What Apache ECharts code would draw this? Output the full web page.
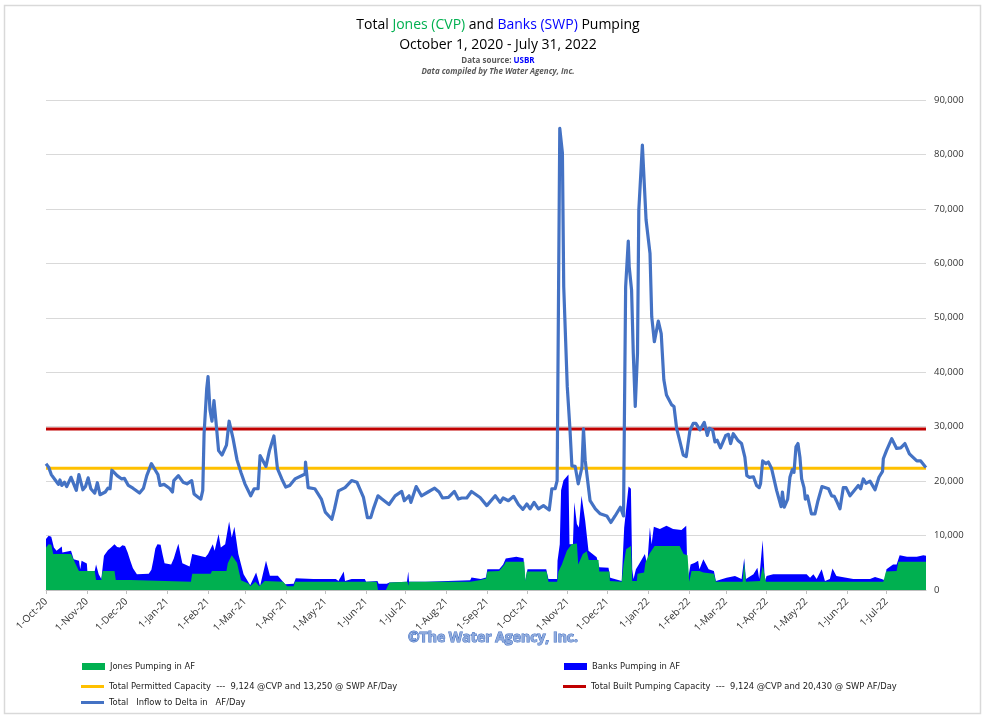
<!DOCTYPE html>
<html>
<head>
<meta charset="utf-8">
<script src="https://cdn.jsdelivr.net/npm/echarts@6/dist/echarts.min.js"></script>
<style>html,body{margin:0;padding:0;background:#fff}#main{width:988px;height:721px}</style>
</head>
<body>
<div id="main"></div>
<script>
// x values are days since 1-Oct-20
var tickDays = [0,31,61,92,123,151,182,212,243,273,304,335,365,396,426,457,488,516,547,577,608,638];
var tickLabels = ['1-Oct-20','1-Nov-20','1-Dec-20','1-Jan-21','1-Feb-21','1-Mar-21','1-Apr-21','1-May-21','1-Jun-21','1-Jul-21','1-Aug-21','1-Sep-21','1-Oct-21','1-Nov-21','1-Dec-21','1-Jan-22','1-Feb-22','1-Mar-22','1-Apr-22','1-May-22','1-Jun-22','1-Jul-22'];
var lastDay = 668;

var permittedCapacity = 22374;
var builtCapacity = 29554;

// Jones pumping, top of the green area
var jones = [[0,7800],[2,8400],[4,8300],[5.5,6600],[19,6600],[22,5000],[25,3500],[37,3500],[38,1850],[42,1850],[43,3500],[52,3500],[53,1850],[64,1850],[65,1500],[110,1500],[111,3000],[125,3000],[126,3500],[137,3500],[138,4900],[141,6400],[145,5000],[148,1800],[154,1150],[155,700],[159,1500],[162,700],[166,1650],[180,1500],[183,700],[188,700],[189,1500],
[251,1500],[252,0],[258,0],[260.7,1400],[262,1500],[274.5,1500],[275,800],[275.6,1500],[322,1500],[323,1850],[330,1850],[331,2100],[334,2100],[335,3400],[344,3500],[345,3800],[348,4700],[349,5170],[363,5170],[364,1660],[365,3400],[380,3400],[381.4,1500],[388,1500],[389,3400],[391.6,4700],[395.4,7200],[399,8400],[403,8550],[404,4700],[407.5,6600],[410.5,7100],[412,5500],[419.4,5500],[420,3400],[427.8,3400],[428,1660],[437,1500],[438.4,4700],[440.4,7500],[444,8100],[444.7,4100],[445,1660],[448.5,1660],[449,3000],[454,3200],[455,5000],[456.4,5000],[458,6600],[462,8100],[476,8100],[481,8100],[484,6600],[487,6400],[488.3,1500],[490,3500],[496,3500],[499,3200],[507,3000],[508.5,1500],[528.8,1500],[530,5170],[531.3,1500],[542,1660],[544,4400],[546.5,1500],[635.6,1500],[637.6,3400],[645.7,3500],[647,5170],[668,5170]];

// Banks pumping, read as the top of the blue area stacked over Jones
var banksTop = [[0,9350],[2,9960],[4,9780],[6,7800],[8,7200],[12,8000],[12.4,6900],[19,7200],[21,5650],[25,5350],[26,3800],[27,5350],[31,4860],[31.4,3500],[37,3500],[38,4700],[40,2900],[42,2000],[43,4200],[44,6300],[47,7300],[49,7700],[52,8400],[54,7900],[56,7800],[58,8200],[60,8100],[62,6900],[64,5350],[66,4000],[69,2900],[78,3000],[80,3700],[81.5,5500],[83,7600],[84.6,8400],[87,8300],[88.5,6500],[90,4900],[95,4700],[97,5800],[99,7400],[100.5,8500],[102,6600],[103.5,4900],[109,4300],[111,6600],[121,6000],[123,6600],[126.6,8400],[128,7200],[131,10300],[132.7,7800],[136,8400],[139,12600],[141,9650],[143,11600],[146,6600],[150,2900],[155,860],[159.5,3200],[162.5,740],[167,5350],[170,2600],[176,2600],[181.5,1050],[188,1170],[189.6,2150],[203,2000],[220,2000],[222,1660],[226,3400],[227,1660],
[232,2000],[236,2000],[242,2000],[243,1500],[251.6,1660],[252.5,1170],[258.7,1170],[260.7,1400],[274,1500],[275,3400],[275.6,1500],[288,1500],[289.5,1780],[322,1780],[323,2280],[330,2000],[334,2280],[335,3800],[344,3800],[347,4700],[349,5780],[357,6100],[362.5,5840],[363.7,1660],[365.5,3800],[379.7,3800],[381.4,2000],[388,2000],[388.3,5350],[390,8400],[391,18300],[392.8,20100],[396.6,21200],[397.4,8400],[400,8400],[401,16100],[403,12100],[404.5,11500],[406.5,17300],[409.3,12700],[411.8,7200],[418,6000],[420,4200],[427,4100],[428.3,2270],[437,1660],[438.9,11500],[442.2,19000],[444,18600],[445,3800],[446,2000],[447.8,3800],[450,4700],[454.6,6600],[456.4,4700],[458.4,11500],[459.7,8400],[461.4,11600],[466,11200],[471,11800],[476,11200],[482.4,11000],[486,11800],[487,1660],[488.3,1660],[489.3,4700],[492.6,5000],[495,5350],[496,3800],[499,5650],[503,3800],[507,3500],[508.5,1660],[516.6,2270],[523,2580],[528,2000],[530,5840],[531.3,2000],[537,2900],[540,4100],[541.4,2000],[544,9160],[545.7,1660],[547,2580],[552,2900],[577.4,2900],[580,2270],[582.5,2900],[585,2000],[588.8,3800],[591.3,1660],[595,2000],[597,3940],[600,2580],[612.8,2000],[625.5,2000],[629.3,2400],[634.3,2000],[636.8,1800],[638,3800],[643,4700],[645.7,4700],[648,6400],[653.6,6100],[661,6100],[666,6400],[668,6300]];

// Total inflow to the Delta
var inflow = [[0,23200],[2,22570],[4,21200],[7,20200],[9.4,19400],[10.6,20200],[12,19200],[14,19800],[15.7,19000],[19,20700],[20,20800],[23,18300],[25,21200],[26,21200],[28,18400],[30,19000],[32,20600],[34,18600],[37,17800],[39,19700],[41,17500],[45,18000],[47,18700],[48.6,18600],[50,22000],[51,22100],[54,21000],[57.5,20400],[59.5,20500],[62.5,19200],[66,18700],[71,17800],[74,18700],[76.5,21000],[80,23200],[83,22000],[85,21200],[86.6,19200],[89.6,19400],[93.7,18700],[96,18000],[97,20100],[100.5,21000],[104,19800],[107,19500],[110.6,20100],[112.4,17650],[115.7,17000],[117.5,16700],[119,18300],[120,28700],[122,37000],[123,39200],[124.5,33000],[126,31000],[127.5,34800],[129,31000],[131,25600],[133.6,24800],[137,26600],[139,31000],[142,27800],[145,23900],[148,21600],[151,19500],[155.4,17300],[158,18600],[161,18600],[162.5,24700],[164,24900],[167,22700],[169.6,25600],[173,28300],[175.7,22300],[179,20400],[182,18900],[185,19200],[189,20400],[196.7,21300],[197,23500],[199,18800],[204,18600],[209,16700],[212,14300],[217,13000],[219,14900],[222,18200],
[227,18800],[232,20100],[236,19800],[241,17000],[244,13300],[246.5,13300],[248.5,14900],[252,17300],[255,16700],[260.4,15700],[265,17300],[270,18100],[272,16400],[275.6,17300],[277,16100],[281,19000],[285,17300],[290,18000],[295,18700],[298.4,18000],[301,16900],[305.5,17000],[310,18100],[313,16700],[315.6,16900],[319.4,16900],[323,18100],[329.5,17000],[334.6,15500],[341,17300],[344.7,16100],[347,16900],[351,16400],[355,17200],[358.6,15700],[362,14800],[365,15800],[367.5,14900],[370.5,16100],[373.8,14900],[377.6,15500],[382,14700],[384,18600],[386.5,18600],[388,20100],[390,84800],[392,80300],[393,55700],[395.7,37300],[397.7,29700],[399.2,22800],[401.7,22700],[404,19500],[406.8,22500],[408,29600],[409.3,23800],[413,16400],[417,14900],[420.7,14000],[425.7,13600],[428.8,12400],[432,13600],[436,15200],[438.4,13600],[439,29700],[440,55700],[442,64100],[442.7,59400],[444.5,55100],[445.8,43500],[447.3,33700],[449,43500],[450,69800],[452.7,81700],[455.5,68000],[456.5,68000],[458.5,61800],[459.8,50200],[461.8,45600],[463,45900],[464.8,49400],[467,47100],[469,38600],[471,35800],[473,34900],[475,34000],[476.7,33700],[478.7,29700],[481,27500],[483.7,24800],[486,24500],[488.8,29300],[491.3,30600],[493.3,30600],[496.4,29400],[499.7,30800],[502,28400],[503.5,29700],[506,29400],[507.8,27200],[509.5,27500],[512,26100],[516,28400],[518,28600],[519.7,26900],[521.7,28700],[523,28500],[525.5,27400],[528,26900],[530.5,24400],[532,21000],[534,20700],[537,20800],[539.4,19200],[541.4,18800],[542.4,19500],[544,23700],[546.5,23200],[548.3,23500],[550.8,22300],[554.6,18300],[556,18100],[558,15300],[559,18000],[560.4,15200],[563,16700],[564.7,20700],[566.5,22100],[567.8,21600],[569.3,26300],[570.8,26900],[572.3,24400],[573.6,20400],[575.4,18800],[576.4,16700],[578,17300],[581,14000],[583.7,14000],[586,16400],[589,19000],[590.5,19000],[594,18600],[596.4,17300],[598.4,17200],[600,16400],[602.7,14900],[605.2,18800],[607.3,18800],[610.3,17300],[614,18400],[616.6,19200],[618.4,18600],[620.4,20400],[622.4,19600],[625.5,20000],[629.3,18400],[632.3,20700],[635,21800],[635.6,24100],[638,25600],[642,27800],[645.7,26000],[648.8,26100],[652,26900],[655.4,25000],[661,23700],[664,23700],[667.3,22700],[668,22500]];

var names = {
	jones: 'Jones Pumping in AF',
	banks: 'Banks Pumping in AF',
	permitted: 'Total Permitted Capacity  ---  9,124 @CVP and 13,250 @ SWP AF/Day',
	built: 'Total Built Pumping Capacity  ---  9,124 @CVP and 20,430 @ SWP AF/Day',
	inflow: 'Total   Inflow to Delta in   AF/Day'
};

var legendFont = {fontFamily: '"Liberation Sans Narrow", "DejaVu Sans Condensed", sans-serif', fontSize: 9.3, color: '#222'};

function oneLegend(name, x, y, h) {
	return {data: [name], left: x, top: y, icon: 'rect', itemWidth: 23, itemHeight: h, itemGap: 0,
		padding: 0, textStyle: legendFont, selectedMode: false};
}

var chart = echarts.init(document.getElementById('main'), null, {renderer: 'canvas'});
var titleFont = '"Open Sans", sans-serif';

var option = {
	animation: false,
	backgroundColor: '#fff',
	title: [
		{left: 493, top: 13, textAlign: 'center',
			text: 'Total {g|Jones (CVP)} and {b|Banks (SWP)} Pumping',
			textStyle: {fontFamily: titleFont, fontWeight: 'normal', fontSize: 14, color: '#000',
				rich: {g: {fontFamily: titleFont, fontSize: 14, color: '#00B050'}, b: {fontFamily: titleFont, fontSize: 14, color: '#0000FF'}}}},
		{left: 493, top: 33, textAlign: 'center', text: 'October 1, 2020 - July 31, 2022',
			textStyle: {fontFamily: titleFont, fontWeight: 'normal', fontSize: 14, color: '#000'}},
		{left: 493, top: 52, textAlign: 'center', text: 'Data source: {u|USBR}',
			textStyle: {fontFamily: titleFont, fontWeight: 'bold', fontSize: 8, color: '#595959',
				rich: {u: {fontFamily: titleFont, fontWeight: 'bold', fontSize: 8, color: '#0000FF'}}}},
		{left: 493, top: 63, textAlign: 'center', text: 'Data compiled by The Water Agency, Inc.',
			textStyle: {fontFamily: titleFont, fontWeight: 'bold', fontStyle: 'italic', fontSize: 8, color: '#595959'}},
		{left: 488, top: 626, textAlign: 'center', text: '©The Water Agency, Inc.',
			textStyle: {fontFamily: '"Open Sans", sans-serif', fontWeight: 'bold', fontSize: 14, color: '#8FAADC',
				textBorderColor: '#4472C4', textBorderWidth: 1}}
	],
	grid: {left: 46, right: 62, top: 100, bottom: 131},
	xAxis: {
		type: 'value', min: 0, max: lastDay, splitLine: {show: false},
		axisLine: {lineStyle: {color: '#bfbfbf'}},
		axisTick: {show: true, length: 4, customValues: tickDays, lineStyle: {color: '#bfbfbf'}},
		axisLabel: {
			customValues: tickDays, rotate: 45, fontSize: 10, color: '#333', fontFamily: titleFont, margin: 10,
			formatter: function (v) { return tickLabels[tickDays.indexOf(v)]; }
		}
	},
	yAxis: {
		type: 'value', position: 'right', min: 0, max: 90000, interval: 10000,
		axisLine: {show: false}, axisTick: {show: false},
		splitLine: {lineStyle: {color: '#d9d9d9', width: 1}},
		axisLabel: {
			fontSize: 9.5, color: '#333', fontFamily: titleFont, margin: 8,
			formatter: function (v) { return v.toLocaleString('en-US'); }
		}
	},
	legend: [
		oneLegend(names.jones, 82, 662, 7),
		oneLegend(names.banks, 564, 662, 7),
		oneLegend(names.permitted, 81, 682, 3),
		oneLegend(names.built, 563, 682, 3),
		oneLegend(names.inflow, 81, 698, 3)
	],
	graphic: [{type: 'rect', silent: true, shape: {x: 4.5, y: 5.5, width: 976, height: 708},
		style: {fill: 'none', stroke: '#d9d9d9', lineWidth: 1.5}}],
	series: [
		{name: names.banks, type: 'line', data: banksTop, symbol: 'none', z: 2,
			lineStyle: {width: 0}, itemStyle: {color: '#0000FF'}, areaStyle: {color: '#0000FF', opacity: 1}},
		{name: names.jones, type: 'line', data: jones, symbol: 'none', z: 3,
			lineStyle: {width: 0}, itemStyle: {color: '#00B050'}, areaStyle: {color: '#00B050', opacity: 1}},
		{name: names.permitted, type: 'line', data: [[0, permittedCapacity], [lastDay, permittedCapacity]], symbol: 'none', z: 4,
			lineStyle: {width: 3, color: '#FFC000'}, itemStyle: {color: '#FFC000'}},
		{name: names.built, type: 'line', data: [[0, builtCapacity], [lastDay, builtCapacity]], symbol: 'none', z: 4,
			lineStyle: {width: 3, color: '#C00000'}, itemStyle: {color: '#C00000'}},
		{name: names.inflow, type: 'line', data: inflow, symbol: 'none', z: 5,
			lineStyle: {width: 3.2, color: '#4472C4', join: 'round'}, itemStyle: {color: '#4472C4'}}
	]
};
chart.setOption(option);
</script>
</body>
</html>
